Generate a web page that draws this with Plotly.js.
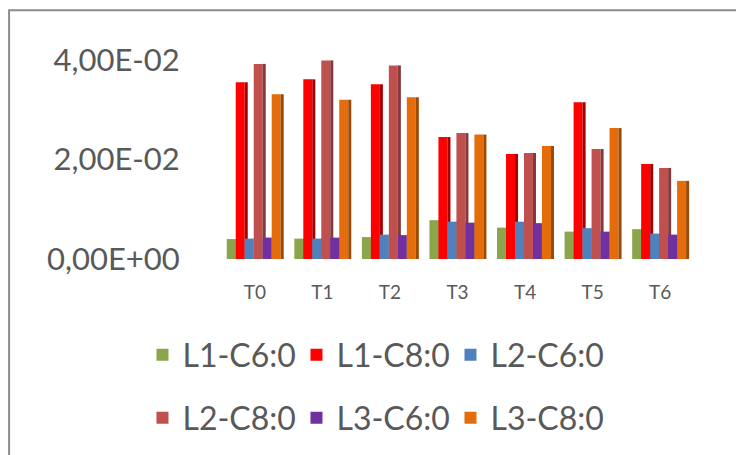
<!DOCTYPE html>
<html>
<head>
<meta charset="utf-8">
<script src="https://cdn.plot.ly/plotly-3.0.1.min.js"></script>
<style>
  html, body { margin: 0; padding: 0; background: #ffffff; }
  #chart { width: 736px; height: 455px; }
</style>
</head>
<body>
<div id="chart"></div>
<script>
// Sampling times
const categories = ['T0', 'T1', 'T2', 'T3', 'T4', 'T5', 'T6'];

// Series names
const seriesNames = ['L1-C6:0', 'L1-C8:0', 'L2-C6:0', 'L2-C8:0', 'L3-C6:0', 'L3-C8:0'];

// Values per series, one per sampling time
const l1c6 = [0.0040, 0.0041, 0.0044, 0.0078, 0.0063, 0.0055, 0.0060];
const l1c8 = [0.0355, 0.0361, 0.0351, 0.0245, 0.0211, 0.0315, 0.0191];
const l2c6 = [0.0041, 0.0041, 0.0049, 0.0075, 0.0075, 0.0062, 0.0051];
const l2c8 = [0.0392, 0.0399, 0.0389, 0.0253, 0.0213, 0.0221, 0.0183];
const l3c6 = [0.0043, 0.0043, 0.0048, 0.0073, 0.0072, 0.0055, 0.0049];
const l3c8 = [0.0331, 0.0320, 0.0325, 0.0250, 0.0227, 0.0263, 0.0157];

// Y axis ticks
const yTickVals = [0, 0.02, 0.04];
const yTickText = ['0,00E+00', '2,00E-02', '4,00E-02'];

const seriesValues = [l1c6, l1c8, l2c6, l2c8, l3c6, l3c8];
const frontColors = ['#8aa54c', '#ff0000', '#4f81bd', '#c0504d', '#7030a0', '#e46c0a'];
const sideColors  = ['#5e7434', '#a80000', '#35598a', '#86393a', '#4b2070', '#9c4a07'];

const barW = 0.133;     // front face width (category units)
const sideW = 0.045;    // visible side face width
const startOff = -0.415;

// each series: front face, then its shaded side face (the next series' front covers it)
const traces = [];
seriesValues.forEach((vals, i) => {
  const off = startOff + i * barW;
  traces.push({
    type: 'bar', x: categories, y: vals, name: seriesNames[i],
    offset: off, width: barW,
    marker: { color: frontColors[i], line: { width: 0 } },
    legend: i < 3 ? 'legend' : 'legend2',
    hoverinfo: 'x+y+name'
  });
  traces.push({
    type: 'bar', x: categories, y: vals, name: seriesNames[i] + ' side',
    offset: off + barW, width: sideW,
    marker: { color: sideColors[i], line: { width: 0 } },
    showlegend: false, hoverinfo: 'skip'
  });
});

const font = 'Lato, "Open Sans", sans-serif';
const gray = '#595959';

const legendBase = {
  orientation: 'h', x: -0.166, xanchor: 'left', yanchor: 'middle',
  font: { family: font, size: 32, color: gray },
  entrywidth: 109, bgcolor: 'rgba(0,0,0,0)'
};

const layout = {
  width: 736, height: 455,
  margin: { l: 221, r: 42, t: 40, b: 195 },
  paper_bgcolor: '#ffffff', plot_bgcolor: '#ffffff',
  barmode: 'group',
  showlegend: true,
  xaxis: {
    type: 'category', range: [-0.5, 6.5],
    showgrid: false, zeroline: false, showline: false,
    ticks: 'outside', ticklen: 16, tickcolor: 'rgba(0,0,0,0)',
    tickfont: { family: font, size: 19, color: gray }
  },
  yaxis: {
    range: [0, 0.044],
    tickvals: yTickVals, ticktext: yTickText,
    showgrid: false, zeroline: false, showline: false,
    ticks: 'outside', ticklen: 34, tickcolor: 'rgba(0,0,0,0)',
    tickfont: { family: font, size: 31, color: gray }
  },
  legend: Object.assign({}, legendBase, { y: -0.432 }),
  legend2: Object.assign({}, legendBase, { y: -0.718 }),
  shapes: [{
    type: 'rect', xref: 'paper', yref: 'paper',
    x0: -0.448, x1: 1.2, y0: -1.0, y1: 1.136,
    line: { color: '#8c8c8c', width: 2 }, fillcolor: 'rgba(0,0,0,0)',
    layer: 'below'
  }]
};

Plotly.newPlot('chart', traces, layout, { displayModeBar: false, staticPlot: true });
</script>
</body>
</html>
